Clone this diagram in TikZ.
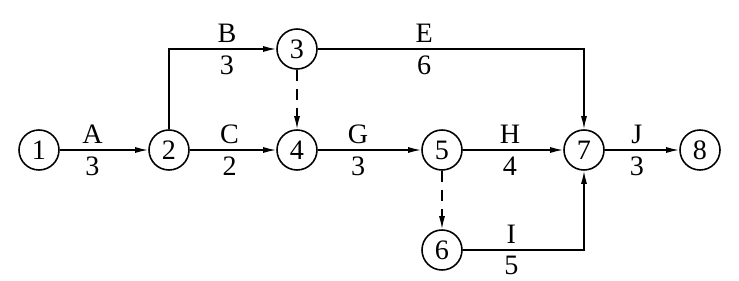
\documentclass[tikz,border=0pt]{standalone}
\usepackage{fontspec}
\setmainfont{Liberation Serif}
\usetikzlibrary{arrows.meta}

\tikzset{
  event/.style={draw, circle, line width=0.9pt, minimum size=0.8cm, inner sep=0pt,
    font=\fontsize{16}{18}\selectfont},
  act/.style={line width=0.8pt, -{Latex[length=2.6mm,width=1.2mm]}},
  dummy/.style={act, dashed, dash pattern=on 2.2mm off 1.6mm},
  toplab/.style={above=0pt, font=\fontsize{16}{18}\selectfont},
  botlab/.style={below=0pt, font=\fontsize{16}{18}\selectfont}
}

\begin{document}
\begin{tikzpicture}
\useasboundingbox (0,0) rectangle (14.78,5.6);

% events
\node[event] (n1) at (0.78, 2.6) {1};
\node[event] (n2) at (3.38, 2.6) {2};
\node[event] (n3) at (5.94, 4.62) {3};
\node[event] (n4) at (5.94, 2.6) {4};
\node[event] (n5) at (8.84, 2.6) {5};
\node[event] (n6) at (8.84, 0.6) {6};
\node[event] (n7) at (11.68, 2.6) {7};
\node[event] (n8) at (14.0, 2.6) {8};

% activities
\draw[act] (n1) -- node[toplab, pos=.37] {A} node[botlab, pos=.37] {3} (n2);
\draw[act] (n2) |- node[toplab, pos=.77] {B} node[botlab, pos=.77] {3} (n3);
\draw[act] (n2) -- node[toplab, pos=.46] {C} node[botlab, pos=.46] {2} (n4);
\draw[act] (n3) -| node[toplab, pos=.2] {E} node[botlab, pos=.2] {6} (n7);
\draw[act] (n4) -- node[toplab, pos=.39] {G} node[botlab, pos=.39] {3} (n5);
\draw[act] (n5) -- node[toplab, pos=.47] {H} node[botlab, pos=.47] {4} (n7);
\draw[act] (n6) -| node[toplab, pos=.2] {I} node[botlab, pos=.2] {5} (n7);
\draw[act] (n7) -- node[toplab, pos=.43] {J} node[botlab, pos=.43] {3} (n8);

% dummy activities
\draw[dummy] (n3) -- (n4);
\draw[dummy] (n5) -- (n6);
\end{tikzpicture}
\end{document}
